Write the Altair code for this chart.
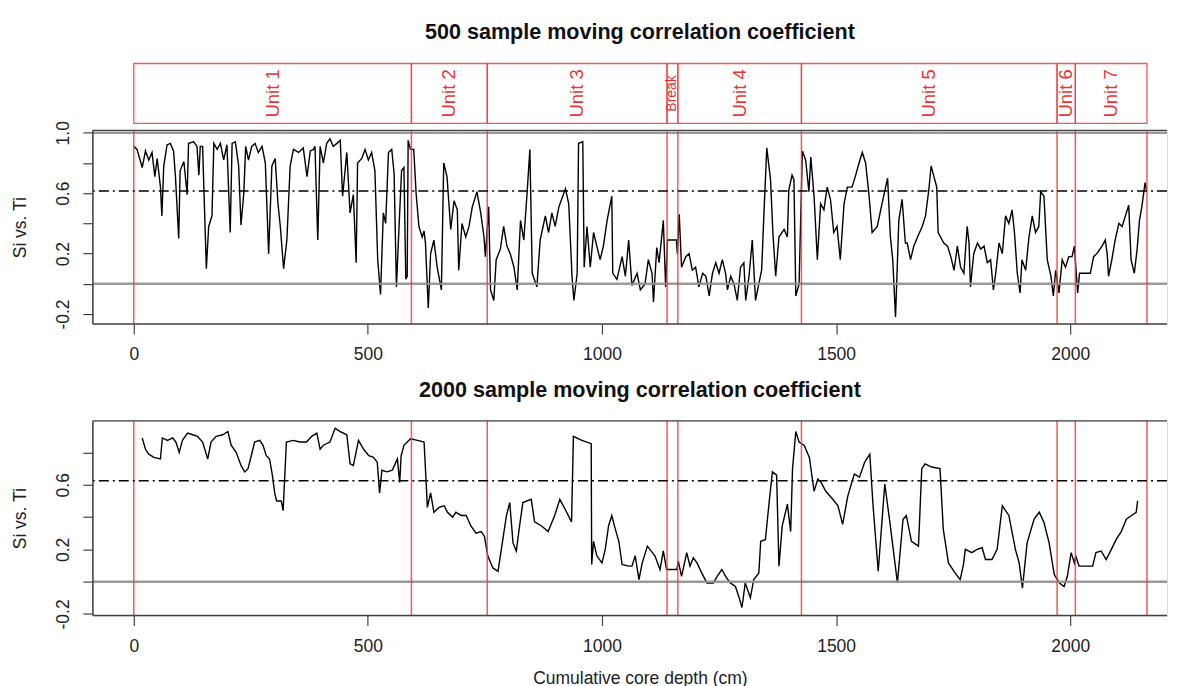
import altair as alt
import pandas as pd

# ---------------- data ----------------
top_series = [
    (0, 0.91), (7, 0.89), (18, 0.77), (25, 0.88), (32, 0.82), (39, 0.87), (45, 0.71), (50, 0.83),
    (57, 0.64), (60, 0.45), (64, 0.78), (71, 0.92), (78, 0.93), (85, 0.88), (89, 0.71), (96, 0.30),
    (99, 0.75), (107, 0.81), (114, 0.59), (117, 0.93), (128, 0.94), (135, 0.91), (139, 0.72), (142, 0.91),
    (147, 0.91), (155, 0.10), (160, 0.38), (167, 0.45), (171, 0.93), (178, 0.89), (185, 0.93), (192, 0.82),
    (199, 0.92), (206, 0.34), (210, 0.93), (217, 0.94), (224, 0.78), (229, 0.39), (235, 0.60), (239, 0.91),
    (245, 0.82), (252, 0.91), (259, 0.93), (266, 0.87), (274, 0.91), (281, 0.80), (288, 0.20), (295, 0.78),
    (302, 0.83), (308, 0.53), (313, 0.38), (320, 0.10), (327, 0.29), (334, 0.78), (341, 0.89), (352, 0.87),
    (362, 0.90), (370, 0.71), (377, 0.88), (384, 0.89), (387, 0.91), (393, 0.29), (398, 0.91), (405, 0.80),
    (412, 0.93), (419, 0.96), (426, 0.91), (434, 0.93), (441, 0.95), (446, 0.58), (455, 0.87), (462, 0.47),
    (469, 0.59), (475, 0.14), (478, 0.80), (487, 0.83), (494, 0.89), (501, 0.82), (508, 0.87), (515, 0.75),
    (521, 0.16), (527, -0.07), (533, 0.47), (538, 0.40), (544, 0.87), (551, 0.89),
    (556, 0.73), (561, -0.02), (566, 0.34), (572, 0.75), (577, 0.77), (581, 0.03), (584, 0.05), (586, 0.95),
    (591, 0.89), (598, 0.89), (603, 0.60), (609, 0.38), (616, 0.31), (620, 0.35), (623, 0.27), (629, -0.16),
    (634, 0.20), (641, 0.29), (648, 0.11), (657, -0.04), (662, 0.80), (669, 0.71), (677, 0.36), (684, 0.55),
    (691, 0.49), (694, 0.09), (701, 0.40), (709, 0.31), (716, 0.38), (723, 0.51), (733, 0.61), (741, 0.47),
    (748, 0.31), (751, 0.18), (758, 0.51), (762, -0.04), (769, -0.11), (774, 0.16), (783, 0.23), (790, 0.38),
    (797, 0.25), (804, 0.20), (812, 0.11), (819, -0.04), (826, 0.42), (833, 0.29), (840, 0.60), (846, 0.89),
    (851, 0.07), (861, -0.02), (868, 0.29), (879, 0.45), (886, 0.34), (893, 0.47), (900, 0.38), (908, 0.51),
    (915, 0.57), (922, 0.63), (929, 0.53), (936, 0.05), (940, -0.11), (947, 0.07), (950, 0.93), (959, 0.94),
    (962, 0.11), (968, 0.38), (975, 0.11), (982, 0.34), (989, 0.25), (996, 0.16), (1003, 0.25), (1011, 0.42),
    (1021, 0.58), (1023, 0.07), (1032, 0.03), (1043, 0.18), (1050, 0.05), (1057, 0.29), (1064, -0.01),
    (1075, 0.07), (1082, -0.04), (1092, 0.00), (1099, 0.16), (1107, 0.07), (1110, -0.12), (1117, 0.24),
    (1122, 0.14), (1131, 0.42), (1136, -0.02), (1140, 0.29), (1159, 0.29), (1161, 0.20), (1165, 0.46),
    (1170, 0.11), (1179, 0.18), (1186, 0.20), (1193, 0.09), (1200, 0.11), (1207, -0.02), (1215, 0.07),
    (1222, 0.05), (1229, -0.08), (1236, 0.07), (1243, 0.14), (1250, 0.07), (1257, 0.16), (1264, 0.07),
    (1268, -0.04), (1275, 0.05), (1282, 0.00), (1289, -0.11), (1296, 0.11), (1303, 0.14), (1307, -0.11),
    (1314, 0.05), (1321, 0.29), (1328, -0.11), (1335, 0.00), (1341, 0.09), (1346, 0.47), (1352, 0.90),
    (1360, 0.69), (1365, 0.34), (1371, 0.05), (1378, 0.31), (1389, 0.36), (1396, 0.31), (1399, 0.62),
    (1406, 0.72), (1410, 0.69), (1414, -0.08), (1421, 0.00), (1428, 0.88), (1435, 0.82), (1442, 0.61),
    (1446, 0.84), (1453, 0.58), (1460, 0.16), (1467, 0.53), (1474, 0.49), (1481, 0.64), (1488, 0.56),
    (1495, 0.34), (1502, 0.38), (1509, 0.16), (1517, 0.53), (1524, 0.64), (1534, 0.64), (1541, 0.71),
    (1549, 0.80), (1556, 0.87), (1563, 0.80), (1570, 0.60), (1577, 0.34), (1588, 0.38), (1598, 0.53),
    (1610, 0.70), (1616, 0.31), (1621, 0.16), (1627, -0.22), (1634, 0.42), (1641, 0.56), (1648, 0.27),
    (1652, 0.27), (1659, 0.16), (1666, 0.25), (1674, 0.31), (1684, 0.38), (1691, 0.45), (1698, 0.62),
    (1703, 0.78), (1709, 0.71), (1715, 0.64), (1718, 0.34), (1723, 0.31), (1730, 0.27), (1738, 0.25),
    (1745, 0.18), (1752, 0.09), (1759, 0.25), (1766, 0.11), (1773, 0.07), (1780, 0.38), (1784, 0.27),
    (1787, -0.02), (1794, 0.20), (1802, 0.27), (1809, 0.23), (1816, 0.25), (1823, 0.14), (1830, 0.16),
    (1836, -0.04), (1841, 0.07), (1848, 0.27), (1855, 0.20), (1862, 0.45), (1869, 0.40), (1876, 0.49),
    (1881, 0.34), (1887, 0.07), (1893, -0.06), (1897, 0.16), (1905, 0.09), (1912, 0.31), (1919, 0.45),
    (1926, 0.34), (1933, 0.38), (1937, 0.61), (1944, 0.58), (1951, 0.16), (1959, 0.05), (1964, -0.08),
    (1969, 0.09), (1976, -0.06), (1983, 0.16), (1990, 0.11), (1997, 0.18), (2004, 0.18), (2009, 0.25),
    (2013, 0.07), (2016, -0.06), (2020, 0.07), (2043, 0.07), (2050, 0.18), (2057, 0.20), (2068, 0.25),
    (2075, 0.29), (2079, 0.20), (2082, 0.05), (2089, 0.16), (2096, 0.29), (2104, 0.40), (2111, 0.38),
    (2118, 0.45), (2125, 0.52), (2130, 0.16), (2137, 0.07), (2143, 0.23), (2148, 0.42), (2153, 0.51),
    (2157, 0.60), (2160, 0.67), (2163, 0.62),
]

bottom_series = [
    (18, 0.89), (25, 0.82), (32, 0.79), (43, 0.77), (57, 0.76), (61, 0.89), (72, 0.875), (83, 0.89),
    (90, 0.865), (97, 0.80), (104, 0.875), (115, 0.92), (126, 0.91), (136, 0.90), (147, 0.865), (158, 0.76),
    (165, 0.865), (176, 0.90), (190, 0.91), (201, 0.93), (208, 0.845), (219, 0.80), (229, 0.72), (237, 0.68),
    (244, 0.70), (251, 0.78), (258, 0.865), (269, 0.875), (276, 0.845), (283, 0.78), (290, 0.76), (296, 0.66),
    (301, 0.55), (305, 0.50), (315, 0.50), (319, 0.44), (326, 0.865), (341, 0.875), (355, 0.865),
    (369, 0.865), (380, 0.90), (391, 0.92), (398, 0.82), (405, 0.845), (419, 0.865), (430, 0.95),
    (441, 0.93), (455, 0.91), (462, 0.73), (469, 0.72), (480, 0.875), (491, 0.82), (502, 0.78), (512, 0.77),
    (520, 0.74), (525, 0.55), (530, 0.69), (541, 0.68), (552, 0.69), (563, 0.76), (568, 0.615), (571, 0.78),
    (577, 0.845), (591, 0.885), (606, 0.875), (620, 0.865), (624, 0.64), (627, 0.46), (634, 0.55),
    (641, 0.43), (652, 0.46), (663, 0.47), (670, 0.43), (681, 0.40), (688, 0.43), (699, 0.41), (710, 0.41),
    (720, 0.345), (731, 0.30), (742, 0.31), (749, 0.28), (756, 0.16), (767, 0.085), (778, 0.064),
    (785, 0.20), (796, 0.41), (803, 0.49), (810, 0.24), (817, 0.19), (824, 0.345), (831, 0.49), (849, 0.51),
    (856, 0.37), (871, 0.345), (885, 0.31), (899, 0.41), (910, 0.51), (921, 0.45), (935, 0.37), (939, 0.90),
    (957, 0.875), (977, 0.855), (978, 0.106), (982, 0.25), (989, 0.16), (1000, 0.116), (1007, 0.20),
    (1014, 0.345), (1021, 0.41), (1028, 0.33), (1036, 0.25), (1043, 0.106), (1057, 0.096), (1064, 0.096),
    (1071, 0.16), (1079, 0.012), (1086, 0.116), (1097, 0.22),
    (1113, 0.16), (1124, 0.075), (1131, 0.19), (1138, 0.075), (1160, 0.075), (1163, 0.127), (1170, 0.033),
    (1181, 0.18), (1188, 0.096), (1195, 0.148), (1203, 0.116), (1213, 0.054), (1224, -0.008),
    (1238, -0.008), (1246, 0.033), (1256, 0.075), (1264, 0.033), (1274, -0.008), (1285, -0.03),
    (1292, -0.09), (1299, -0.16), (1306, -0.008), (1317, -0.10), (1324, 0.012), (1335, 0.054),
    (1339, 0.25), (1349, 0.26), (1357, 0.49), (1364, 0.68), (1373, 0.66), (1378, 0.096), (1385, 0.345),
    (1396, 0.48), (1403, 0.31), (1407, 0.70), (1414, 0.93), (1421, 0.865), (1432, 0.844), (1443, 0.77),
    (1453, 0.56), (1461, 0.636), (1468, 0.615), (1478, 0.56), (1493, 0.51), (1504, 0.47), (1514, 0.355),
    (1525, 0.53), (1539, 0.667), (1550, 0.647), (1561, 0.74), (1572, 0.79), (1579, 0.47), (1590, 0.064),
    (1604, 0.605), (1615, 0.366), (1631, -0.008), (1643, 0.387), (1650, 0.41), (1661, 0.25), (1676, 0.22),
    (1683, 0.70), (1690, 0.73), (1704, 0.71), (1722, 0.70), (1729, 0.324), (1740, 0.116), (1754, 0.054),
    (1765, 0.012), (1772, 0.106), (1776, 0.20), (1790, 0.18), (1801, 0.20), (1812, 0.21), (1819, 0.137),
    (1833, 0.137), (1844, 0.20), (1855, 0.47), (1869, 0.41), (1883, 0.20), (1891, 0.116), (1898, -0.04),
    (1908, 0.24), (1923, 0.387), (1934, 0.43), (1944, 0.366), (1955, 0.24), (1966, 0.044), (1977, -0.008),
    (1987, -0.03), (1994, 0.033), (2002, 0.18), (2009, 0.116), (2012, 0.158), (2019, 0.096), (2048, 0.096),
    (2055, 0.18), (2066, 0.19), (2077, 0.137), (2088, 0.20), (2098, 0.26), (2109, 0.31), (2120, 0.387),
    (2131, 0.41), (2141, 0.43), (2144, 0.50),
]

unit_bounds = [0, 593, 755, 1139, 1162, 1426, 1972, 2011, 2164]
unit_names = ["Unit 1", "Unit 2", "Unit 3", "Break", "Unit 4", "Unit 5", "Unit 6", "Unit 7"]
x_ticks = [0, 500, 1000, 1500, 2000]
y_ticks_top = [-0.2, 0.0, 0.2, 0.4, 0.6, 0.8, 1.0]
y_ticks_bottom = [-0.2, 0.0, 0.2, 0.4, 0.6, 0.8]
y_labels_shown = [-0.2, 0.2, 0.6, 1.0]
threshold_top = 0.615
threshold_bottom = 0.625
gray_levels_top = [0.0, 1.0]
gray_levels_bottom = [0.0]
title_top = "500 sample moving correlation coefficient"
title_bottom = "2000 sample moving correlation coefficient"
x_title = "Cumulative core depth (cm)"
y_title = "Si vs. Ti"

# ---------------- layout / style ----------------
W, H1, H2 = 1076, 194, 195
X_DOMAIN = [-87.4, 2206.8]
Y1_DOMAIN = [-0.266, 1.016]
Y2_DOMAIN = [-0.21, 0.996]
FONT = "Liberation Sans"
RED_LINE = "#f23c3c"
RED_TEXT = "#e83535"
GRAY = "#8f8f8f"
FRAME = "#444444"

units_df = pd.DataFrame({"start": unit_bounds[:-1], "end": unit_bounds[1:], "name": unit_names})
units_df["mid"] = (units_df["start"] + units_df["end"]) / 2
bounds_df = pd.DataFrame({"depth": unit_bounds})
one = pd.DataFrame({"k": [0]})

shown = ",".join(str(int(round(v * 10))) for v in y_labels_shown)
label_expr = (f"indexof([{shown}], round(datum.value*10)) >= 0 ? "
              "replace(format(datum.value, '.1f'), '\u2212', '-') : ''")


def panel(series, y_domain, y_ticks, H, gray_levels, threshold, title_text, title_y, with_units, with_xtitle):
    df = pd.DataFrame(series, columns=["depth", "r"])
    xs = alt.Scale(domain=X_DOMAIN, nice=False, zero=False)
    ys = alt.Scale(domain=y_domain, nice=False, zero=False)

    x_axis_kw = dict(values=x_ticks, format="d", tickSize=10, tickColor=FRAME, tickWidth=1.2,
                     labelFontSize=17.5, labelFont=FONT, labelColor="#222222", labelPadding=12,
                     labelFlush=False, labelOverlap=False, domain=False, grid=False)
    if with_xtitle:
        x_axis_kw.update(title=x_title, titleFont=FONT, titleFontSize=17.5, titleFontWeight="normal",
                         titleColor="#222222", titleX=548, titleY=68, titleBaseline="alphabetic",
                         titleAlign="center")
    else:
        x_axis_kw.update(title="")
    x_axis = alt.Axis(**x_axis_kw)

    y_axis = alt.Axis(values=y_ticks, labelExpr=label_expr, tickSize=10, tickColor=FRAME, tickWidth=1.2,
                      labelFontSize=17.5, labelFont=FONT, labelColor="#222222", labelAngle=270,
                      labelAlign="center", labelBaseline="alphabetic", labelPadding=14,
                      labelOverlap=False, domain=False, grid=False,
                      title=y_title, titleFont=FONT, titleFontSize=17.5, titleFontWeight="normal",
                      titleColor="#222222", titleAngle=270, titleX=-72, titleY=H / 2,
                      titleAlign="center", titleBaseline="middle")

    X = lambda f: alt.X(f, scale=xs, axis=x_axis)
    Y = lambda f: alt.Y(f, scale=ys, axis=y_axis)

    line = alt.Chart(df).mark_line(color="black", strokeWidth=1.4).encode(
        x=X("depth:Q"), y=Y("r:Q"))
    grays = alt.Chart(pd.DataFrame({"level": gray_levels})).mark_rule(
        color=GRAY, strokeWidth=2.5, opacity=0.9
    ).encode(y=Y("level:Q"))
    reds = alt.Chart(bounds_df).mark_rule(color=RED_LINE, strokeWidth=1.5, opacity=0.85).encode(
        x=X("depth:Q"))
    thr = alt.Chart(pd.DataFrame({"level": [threshold]})).mark_rule(
        color="black", strokeWidth=1.4, strokeDash=[10, 4, 2, 4]
    ).encode(y=Y("level:Q"))
    left = alt.Chart(one).mark_rule(color=FRAME, strokeWidth=1.5).encode(
        x=alt.value(0), y=alt.value(0), y2=alt.value(H))
    topb = alt.Chart(one).mark_rule(color=FRAME, strokeWidth=1.5).encode(
        y=alt.value(0), x=alt.value(0), x2=alt.value(W))
    botb = alt.Chart(one).mark_rule(color=FRAME, strokeWidth=1.5).encode(
        y=alt.value(H), x=alt.value(0), x2=alt.value(W))
    ttl = alt.Chart(one).mark_text(text=title_text, font=FONT, fontSize=21.6, fontWeight="bold",
                                   align="center", baseline="alphabetic", color="#111111").encode(
        x=alt.value(548), y=alt.value(title_y))

    layers = [line, grays, reds, thr, left, topb, botb, ttl]
    if with_units:
        boxes = alt.Chart(units_df).mark_rect(fillOpacity=0, stroke=RED_LINE, strokeWidth=1.3,
                                             strokeOpacity=0.85).encode(
            x=X("start:Q"), x2="end:Q", y=alt.value(-67), y2=alt.value(-7))
        utext = alt.Chart(units_df).transform_filter("datum.name != 'Break'").mark_text(
            angle=270, align="center", baseline="middle", fontSize=18.5, font=FONT, color=RED_TEXT
        ).encode(x=X("mid:Q"), y=alt.value(-37), text="name:N")
        btext = alt.Chart(units_df).transform_filter("datum.name == 'Break'").mark_text(
            angle=270, align="center", baseline="middle", fontSize=14, font=FONT, color=RED_TEXT
        ).encode(x=X("mid:Q"), y=alt.value(-37), text="name:N")
        layers += [boxes, utext, btext]
    return alt.layer(*layers).properties(width=W, height=H)


top = panel(top_series, Y1_DOMAIN, y_ticks_top, H1, gray_levels_top, threshold_top,
            title_top, -92, True, False)
bottom = panel(bottom_series, Y2_DOMAIN, y_ticks_bottom, H2, gray_levels_bottom, threshold_bottom,
               title_bottom, -24, False, True)

chart = alt.vconcat(top, bottom, spacing=97, bounds="flush").properties(
    padding={"left": 3, "top": 12, "right": 0, "bottom": 0}
).configure_view(strokeWidth=0).configure(background="white")

chart.save("out.html", embed_options={"renderer": "svg", "actions": False})
